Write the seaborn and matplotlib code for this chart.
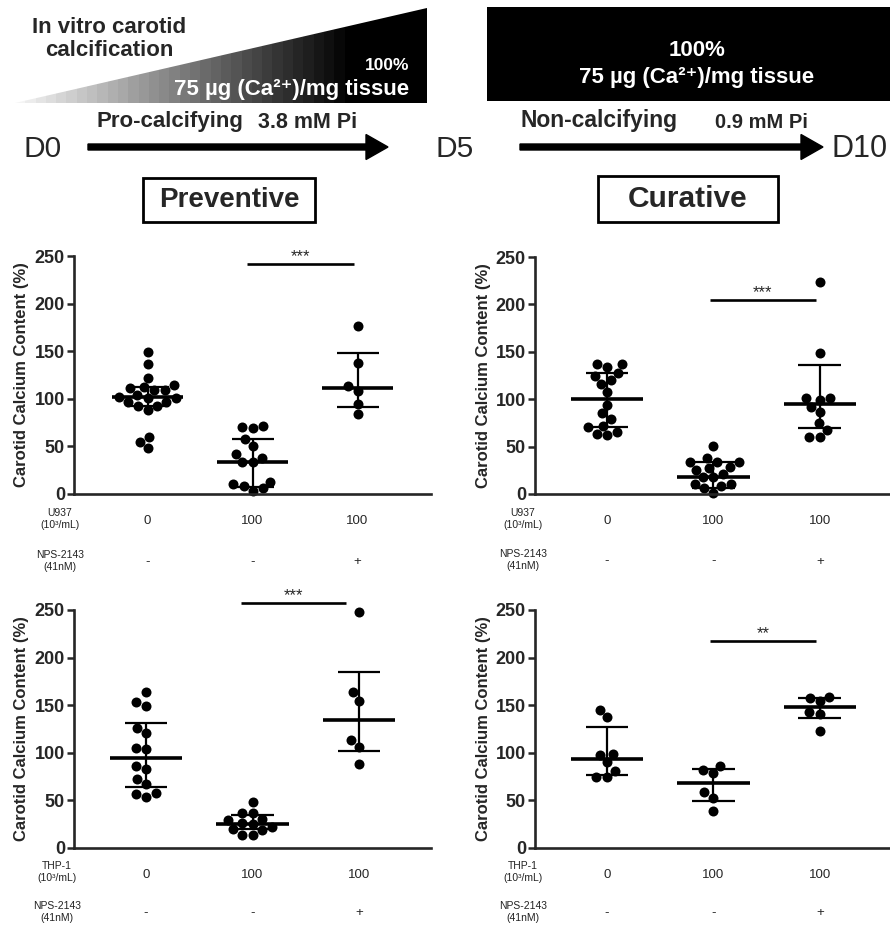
import numpy as np
import pandas as pd
import matplotlib
matplotlib.use("Agg")
import matplotlib.pyplot as plt
import seaborn as sns
from matplotlib.patches import Rectangle, Polygon, FancyArrow
from matplotlib.colors import LinearSegmentedColormap
from matplotlib.transforms import blended_transform_factory

sns.set_style("ticks")
plt.rcParams['font.family'] = ['Liberation Sans', 'DejaVu Sans']

# ---------------- data ----------------
groups = ["ctrl", "cells", "cells+NPS"]
dose_labels = ["0", "100", "100"]
nps_labels = ["-", "-", "+"]

# Preventive, U937
a_ctrl = [149, 137, 122, 111, 109, 109, 112, 114, 97, 101, 101, 102, 104, 92, 96.5, 88, 92, 59.5, 55, 48]
a_cells = [70, 71, 69.5, 58, 50.5, 42.5, 38, 34, 34, 10, 8.5, 13, 6, 3]
a_nps = [176, 138, 113.7, 108.4, 94.7, 83.9]
a_mean = [102.4, 34, 110.9]
a_low = [92.3, 7.7, 91.6]
a_high = [111.9, 58, 147.7]

# Curative, U937
b_ctrl = [134, 137.5, 136.8, 125, 127.7, 116.5, 120, 107.7, 94.4, 79, 85, 70.2, 71.9, 62.1, 63.8, 65.6]
b_cells = [50.5, 34, 34, 37.5, 34, 27, 25.3, 28.8, 17.5, 21, 17.5, 8.4, 10.5, 6, 10.5, 1]
b_nps = [223.5, 148.7, 98.9, 101.4, 101.4, 91.9, 86.4, 74.4, 67.7, 60.4, 60.4]
b_mean = [100.7, 17.9, 94.7]
b_low = [70.2, 6, 69.1]
b_high = [127.7, 34, 136.5]

# Preventive, THP-1
c_ctrl = [164, 153.5, 149.5, 125.7, 120.5, 103.7, 104.7, 85.7, 83.3, 72.5, 67.6, 53.5, 57.4, 56.7]
c_cells = [48, 37, 37, 30, 29, 25, 26, 22, 20, 19, 14, 14]
c_nps = [248.3, 163.5, 154.7, 113.4, 106.4, 88.2]
c_mean = [94.5, 25.2, 134.1]
c_low = [64.4, 19.6, 101.9]
c_high = [131.6, 34.7, 185.2]

# Curative, THP-1
d_ctrl = [145, 137.3, 98.7, 97.7, 90, 81.2, 74.3, 74.9]
d_cells = [81.9, 86.5, 78.4, 58.5, 52.9, 38.9]
d_nps = [159, 154.7, 157.2, 142.5, 140.8, 123.2]
d_mean = [93.8, 68.6, 148.4]
d_low = [76.7, 49.4, 136.6]
d_high = [127.4, 82.6, 157.6]

sig_y = [241.8, 205, 257, 217.4]
sig_stars = ["***", "***", "***", "**"]
cell_names = ["U937", "U937", "THP-1", "THP-1"]

# ---------------- figure ----------------
W, H = 890, 926
fig = plt.figure(figsize=(W / 100, H / 100), dpi=100)
fig.patch.set_facecolor("white")


def px_axes(x0, y0, x1, y1):
    return fig.add_axes([x0 / W, 1 - y1 / H, (x1 - x0) / W, (y1 - y0) / H])


# overlay (header) in pixel coordinates
ov = fig.add_axes([0, 0, 1, 1])
ov.set_xlim(0, W)
ov.set_ylim(H, 0)
ov.axis("off")
ov.patch.set_alpha(0)

# gradient triangle
cmap = LinearSegmentedColormap.from_list("g", [(0, "#f4f4f4"), (0.82, "#000000"), (1, "#000000")])
grad = np.linspace(0, 1, 40).reshape(1, -1)
im = ov.imshow(grad, cmap=cmap, extent=(15, 427, 103, 8), aspect="auto", interpolation="nearest")
tri = Polygon([(15, 103), (427, 8), (427, 103)], closed=True, transform=ov.transData)
im.set_clip_path(tri)
ov.set_xlim(0, W)
ov.set_ylim(H, 0)

ov.text(109, 39, "In vitro carotid\ncalcification", ha="center", va="center",
        fontsize=16, fontweight="bold", linespacing=1.15)
ov.text(409, 66, "100%", ha="right", va="center", fontsize=12.5, fontweight="bold", color="white")
ov.text(409, 90, "75 µg (Ca²⁺)/mg tissue", ha="right", va="center", fontsize=16,
        fontweight="bold", color="white")

# black rectangle right
ov.add_patch(Rectangle((487, 7), 403, 94, facecolor="black", edgecolor="none"))
ov.text(697, 50, "100%", ha="center", va="center", fontsize=16, fontweight="bold", color="white")
ov.text(697, 77, "75 µg (Ca²⁺)/mg tissue", ha="center", va="center", fontsize=16,
        fontweight="bold", color="white")

# arrows and day labels
ov.add_patch(FancyArrow(88, 147, 300, 0, width=6, head_width=25, head_length=22,
                        length_includes_head=True, color="black"))
ov.add_patch(FancyArrow(520, 147, 303, 0, width=6, head_width=25, head_length=22,
                        length_includes_head=True, color="black"))
ov.text(23, 157, "D0", ha="left", va="baseline", fontsize=21.5)
ov.text(436, 157, "D5", ha="left", va="baseline", fontsize=21.5)
ov.text(831, 157, "D10", ha="left", va="baseline", fontsize=22)
ov.text(97, 127, "Pro-calcifying", ha="left", va="baseline", fontsize=16, fontweight="bold")
ov.text(258, 128, "3.8 mM Pi", ha="left", va="baseline", fontsize=15.5, fontweight="bold")
ov.text(520, 127, "Non-calcifying", ha="left", va="baseline", fontsize=16.5, fontweight="bold")
ov.text(715, 128, "0.9 mM Pi", ha="left", va="baseline", fontsize=14.5, fontweight="bold")

# boxed titles
ov.add_patch(Rectangle((143, 178), 172, 44, facecolor="none", edgecolor="black", linewidth=2))
ov.text(229, 200, "Preventive", ha="center", va="center", fontsize=20, fontweight="bold")
ov.add_patch(Rectangle((598, 176), 180, 46, facecolor="none", edgecolor="black", linewidth=2))
ov.text(688, 199, "Curative", ha="center", va="center", fontsize=21.5, fontweight="bold")

# ---------------- panels ----------------
panels = [
    dict(box=(74, 256, 431, 494), xlim=(-0.70, 2.70), pts=[a_ctrl, a_cells, a_nps],
         mean=a_mean, low=a_low, high=a_high, sig=(0.95, 1.97), lab_x=-0.039, row1=-0.109, row2=-0.28),
    dict(box=(535, 257, 890, 494), xlim=(-0.676, 2.66), pts=[b_ctrl, b_cells, b_nps],
         mean=b_mean, low=b_low, high=b_high, sig=(0.97, 1.96), lab_x=-0.034, row1=-0.109, row2=-0.28),
    dict(box=(74, 610, 431, 848), xlim=(-0.676, 2.676), pts=[c_ctrl, c_cells, c_nps],
         mean=c_mean, low=c_low, high=c_high, sig=(0.89, 1.88), lab_x=-0.048, row1=-0.105, row2=-0.27),
    dict(box=(535, 610, 890, 848), xlim=(-0.676, 2.66), pts=[d_ctrl, d_cells, d_nps],
         mean=d_mean, low=d_low, high=d_high, sig=(0.97, 1.96), lab_x=-0.034, row1=-0.105, row2=-0.27),
]

for k, p in enumerate(panels):
    ax = px_axes(*p["box"])
    ax.patch.set_alpha(0)
    df = pd.DataFrame({
        "group": sum([[g] * len(v) for g, v in zip(groups, p["pts"])], []),
        "value": sum([list(v) for v in p["pts"]], []),
    })
    sns.swarmplot(data=df, x="group", y="value", order=groups, color="black", size=7.2,
                  linewidth=0, ax=ax, clip_on=False, zorder=2, warn_thresh=1.0)
    for i, (m, lo, hi) in enumerate(zip(p["mean"], p["low"], p["high"])):
        ax.hlines(m, i - 0.34, i + 0.34, color="black", linewidth=2.6, zorder=3)
        ax.vlines(i, lo, hi, color="black", linewidth=1.6, zorder=3)
        ax.hlines([lo, hi], i - 0.2, i + 0.2, color="black", linewidth=1.6, zorder=3)

    ax.set_xlim(*p["xlim"])
    ax.set_ylim(0, 250)
    ax.set_yticks([0, 50, 100, 150, 200, 250])
    ax.set_yticklabels(["0", "50", "100", "150", "200", "250"], fontsize=13, fontweight="bold")
    ax.tick_params(axis="y", length=5, width=1.8, pad=1.5)
    ax.set_xticks([0, 1, 2])
    ax.set_xticklabels(dose_labels, fontsize=9.5)
    ax.tick_params(axis="x", length=0, pad=15)
    for s in ["top", "right"]:
        ax.spines[s].set_visible(False)
    for s in ["left", "bottom"]:
        ax.spines[s].set_linewidth(1.9)
    ax.set_xlabel("")
    ax.set_ylabel("Carotid Calcium Content (%)", fontsize=12, fontweight="bold")
    ax.yaxis.label.set_va("center")
    ax.yaxis.set_label_coords(-0.146, 0.5)

    # significance bar
    x0, x1 = p["sig"]
    ax.plot([x0, x1], [sig_y[k], sig_y[k]], color="black", linewidth=1.9, clip_on=False,
            solid_capstyle="butt")
    ax.annotate(sig_stars[k], xy=((x0 + x1) / 2, sig_y[k]), xytext=(0, 0),
                textcoords="offset points", ha="center", va="bottom", fontsize=12,
                annotation_clip=False)

    # extra row labels
    tr = blended_transform_factory(ax.transData, ax.transAxes)
    for i, s in enumerate(nps_labels):
        ax.text(i, p["row2"] - 0.005, s, transform=tr, ha="center", va="center", fontsize=9.5)
    ax.text(p["lab_x"], p["row1"] + 0.003, cell_names[k] + "\n(10³/mL)", transform=ax.transAxes,
            ha="center", va="center", fontsize=7.5, color="#222222", linespacing=1.25)
    ax.text(p["lab_x"], p["row2"], "NPS-2143\n(41nM)", transform=ax.transAxes,
            ha="center", va="center", fontsize=7.5, color="#222222", linespacing=1.25)

fig.savefig("out.png", dpi=100, facecolor="white")
